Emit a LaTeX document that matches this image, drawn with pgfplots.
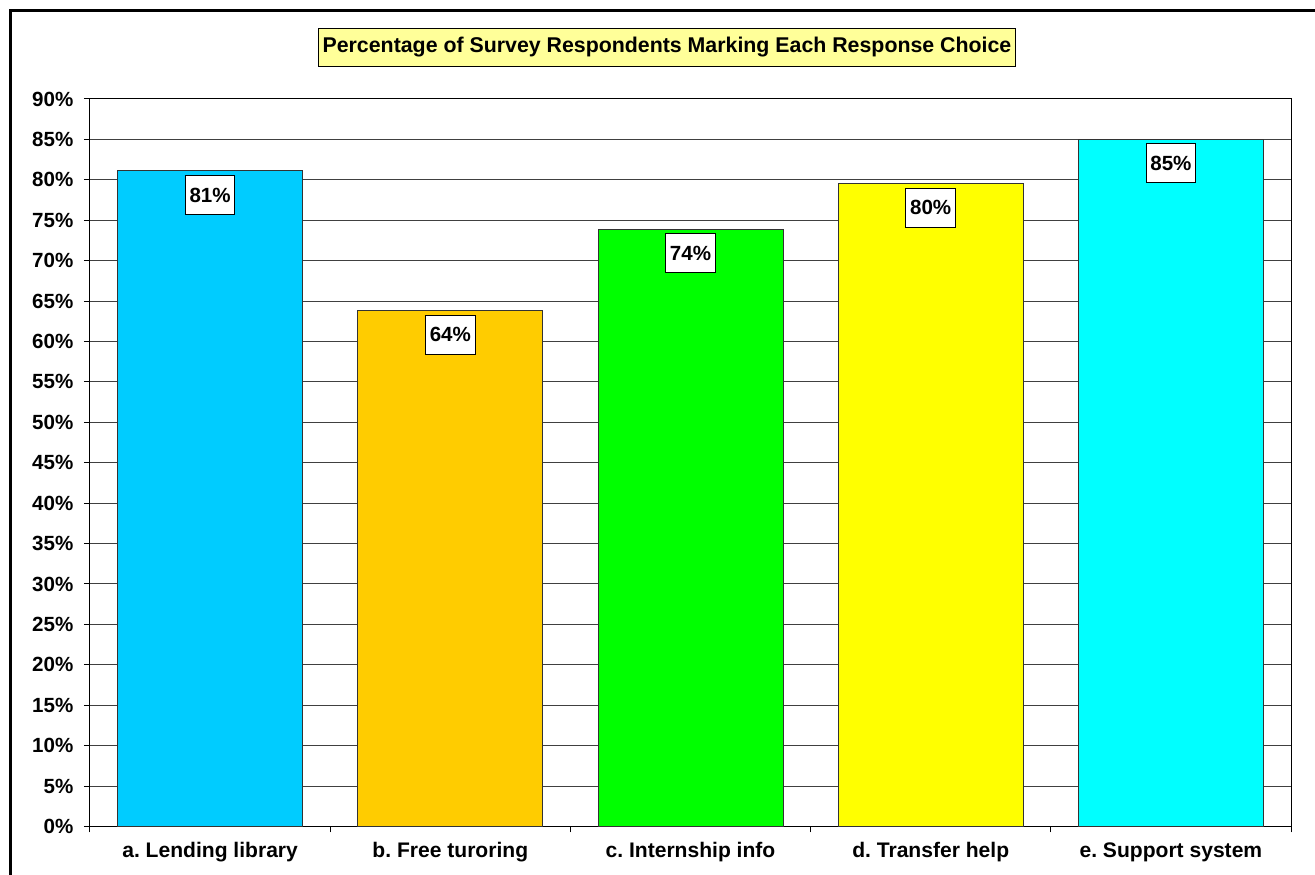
\documentclass[border=0pt]{standalone}
\usepackage{fontspec}
\setmainfont{Liberation Sans}
\usepackage{pgfplots}
\pgfplotsset{compat=1.18}
\definecolor{cA}{HTML}{00CCFF}
\definecolor{cB}{HTML}{FFCC00}
\definecolor{cC}{HTML}{00FF00}
\definecolor{cD}{HTML}{FFFF00}
\definecolor{cE}{HTML}{00FFFF}
\definecolor{titlebg}{HTML}{FFFF99}
\frenchspacing
\begin{document}
\begin{tikzpicture}[x=0.75pt,y=0.75pt]
\path[use as bounding box] (0,0) rectangle (1315,875);
\draw[line width=2.25pt] (10,-5) -- (10,864) -- (1320,864);
\node[draw=black, fill=titlebg, line width=0.75pt, font=\bfseries\fontsize{16}{19}\selectfont, minimum height=28.5pt, inner xsep=3pt] at (667,827.5) {Percentage of Survey Respondents Marking Each Response Choice};
\begin{axis}[
  at={(67.5pt,36.375pt)}, anchor=south west,
  scale only axis, width=900.75pt, height=545.625pt,
  xmin=-0.5, xmax=4.5, ymin=0, ymax=90,
  ytick={0,5,...,90},
  yticklabel={\pgfmathprintnumber{\tick}\%},
  ymajorgrids,
  grid style={black!75, line width=0.75pt},
  xtick={-0.5,0.5,1.5,2.5,3.5,4.5},
  x tick label as interval,
  xticklabels={a. Lending library, b. Free turoring, c. Internship info, d. Transfer help, e. Support system},
  xtick pos=bottom, ytick pos=left,
  tick align=outside,
  major tick length=4.5pt,
  tick style={black, line width=0.75pt},
  axis line style={black, line width=0.75pt},
  yticklabel style={font=\bfseries\fontsize{15.4}{18}\selectfont, xshift=-4.5pt},
  xticklabel style={font=\bfseries\fontsize{15.8}{18}\selectfont, yshift=-4pt},
  /pgf/number format/assume math mode=true,
  ybar, bar width=138.75pt, bar shift=0pt,
  nodes near coords,
  point meta=explicit symbolic,
  every node near coord/.append style={anchor=north, yshift=-3pt, fill=white, draw=black, line width=0.75pt, font=\bfseries\fontsize{15.4}{18}\selectfont, minimum height=29.25pt, inner xsep=3.2pt},
]
\addplot[fill=cA, draw=black!80, line width=0.75pt] coordinates {(0,81.1) [81\%]};
\addplot[fill=cB, draw=black!80, line width=0.75pt] coordinates {(1,63.8) [64\%]};
\addplot[fill=cC, draw=black!80, line width=0.75pt] coordinates {(2,73.9) [74\%]};
\addplot[fill=cD, draw=black!80, line width=0.75pt] coordinates {(3,79.5) [80\%]};
\addplot[fill=cE, draw=black!80, line width=0.75pt] coordinates {(4,85.0) [85\%]};
\end{axis}
\end{tikzpicture}
\end{document}
